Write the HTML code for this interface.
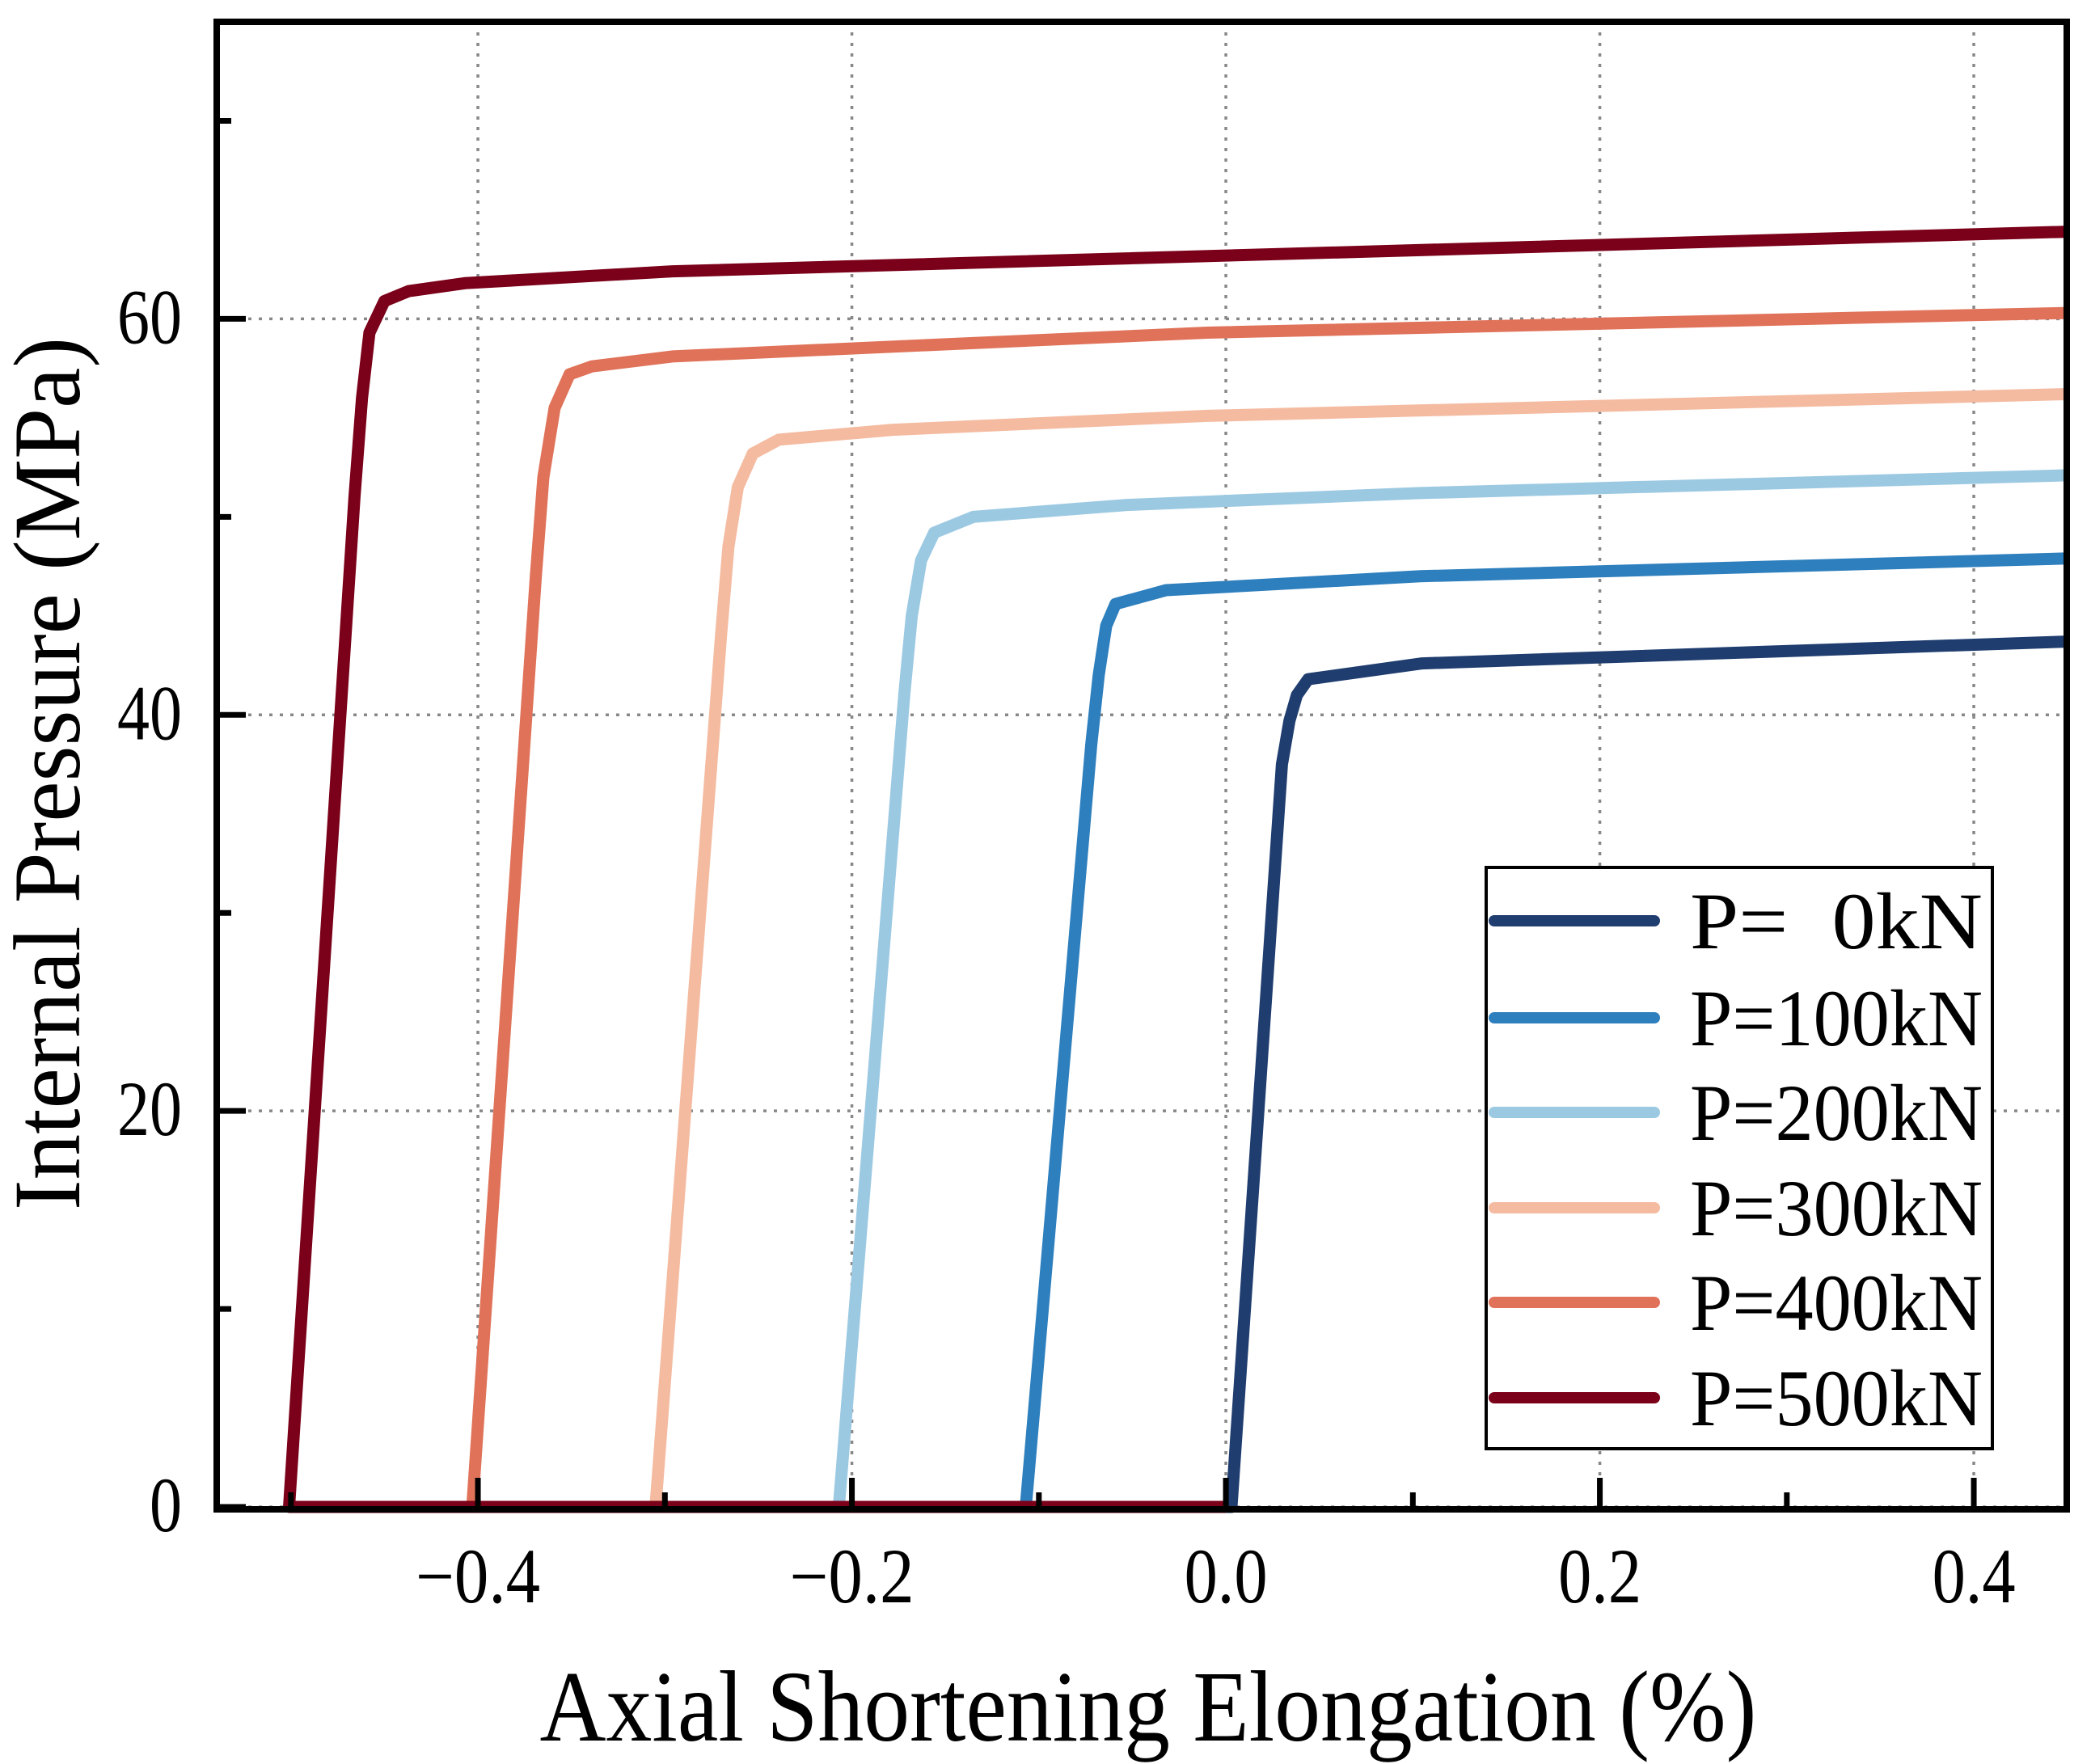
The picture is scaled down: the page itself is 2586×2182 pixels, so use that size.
<!DOCTYPE html>
<html><head><meta charset="utf-8">
<style>
html,body{margin:0;padding:0;background:#fff;}
svg{display:block;font-family:"Liberation Serif","Times New Roman",serif;}
</style></head>
<body>
<svg id="chart" width="2586" height="2182" viewBox="0 0 2586 2182" xmlns="http://www.w3.org/2000/svg">
<g id="grid"></g>
<g id="series"></g>
<g id="axes"></g>
<g id="legend"></g>
<text x="1420" y="2153" font-size="125" text-anchor="middle" textLength="1505" lengthAdjust="spacingAndGlyphs">Axial Shortening Elongation (%)</text>
<text transform="translate(98,957) rotate(-90)" x="0" y="0" font-size="118" text-anchor="middle" textLength="1080" lengthAdjust="spacingAndGlyphs">Internal Pressure (MPa)</text>
</svg>
<script>
const seriesNames = ["P=  0kN","P=100kN","P=200kN","P=300kN","P=400kN","P=500kN"];
const seriesColors = ["#1f3d6f","#2e7fbd","#9cc9e2","#f4bba1","#e07259","#7b0019"];
const xP0 = [0, 0.003, 0.030, 0.034, 0.038, 0.044, 0.105, 0.45];
const yP0 = [0, 0, 37.5, 39.7, 41.0, 41.8, 42.6, 43.7];
const xP100 = [0, -0.107, -0.072, -0.068, -0.064, -0.059, -0.032, 0.104, 0.45];
const yP100 = [0, 0, 38.5, 42.0, 44.5, 45.6, 46.3, 47.0, 47.9];
const xP200 = [0, -0.207, -0.172, -0.168, -0.163, -0.156, -0.135, -0.053, 0.104, 0.45];
const yP200 = [0, 0, 41.0, 45.0, 47.8, 49.2, 50.0, 50.6, 51.2, 52.1];
const xP300 = [0, -0.305, -0.270, -0.266, -0.261, -0.253, -0.239, -0.178, -0.010, 0.45];
const yP300 = [0, 0, 44.0, 48.5, 51.5, 53.2, 53.9, 54.4, 55.1, 56.2];
const xP400 = [0, -0.403, -0.369, -0.365, -0.359, -0.351, -0.339, -0.296, -0.010, 0.45];
const yP400 = [0, 0, 47.0, 52.0, 55.5, 57.2, 57.6, 58.1, 59.3, 60.3];
const xP500 = [0, -0.501, -0.466, -0.462, -0.458, -0.450, -0.437, -0.407, -0.296, 0.45];
const yP500 = [0, 0, 51.0, 56.0, 59.3, 60.9, 61.4, 61.8, 62.4, 64.4];
const xTickValues = [-0.4, -0.2, 0.0, 0.2, 0.4];
const xTickLabels = ["\u22120.4","\u22120.2","0.0","0.2","0.4"];
const xMinorValues = [-0.5, -0.3, -0.1, 0.1, 0.3];
const yTickValues = [0, 20, 40, 60];
const yTickLabels = ["0","20","40","60"];
const yMinorValues = [10, 30, 50, 70];

const NS = "http://www.w3.org/2000/svg";
const L = 268, R = 2556, T = 27, B = 1864;
const X0 = -0.5397, X1 = 0.4497, Y0 = 0, Y1 = 75;
function sx(v){ return L + (v - X0) / (X1 - X0) * (R - L); }
function sy(v){ return B - (v - Y0) / (Y1 - Y0) * (B - T); }
function mk(tag, attrs, parent){
  const e = document.createElementNS(NS, tag);
  for (const k in attrs) e.setAttribute(k, attrs[k]);
  parent.appendChild(e);
  return e;
}
const grid = document.getElementById("grid");
const axes = document.getElementById("axes");
const sg = document.getElementById("series");
const lg = document.getElementById("legend");

xTickValues.forEach((v, i) => {
  const g = mk("line", {x1: sx(v), x2: sx(v), y1: T, y2: B, stroke: "#888", "stroke-width": 3.5, "stroke-dasharray": "4 9"}, grid);
  
  
  const t = mk("line", {x1: sx(v), x2: sx(v), y1: B, y2: B - 36, stroke: "#000", "stroke-width": 7}, axes);
  
  
  const lab = mk("text", {x: sx(v), y: 1982, "font-size": 96, "text-anchor": "middle", textLength: xTickLabels[i].length > 3 ? 154 : 103, lengthAdjust: "spacingAndGlyphs"}, axes);
  lab.textContent = xTickLabels[i];
  
  
});
xMinorValues.forEach(v => {
  const t = mk("line", {x1: sx(v), x2: sx(v), y1: B, y2: B - 18, stroke: "#000", "stroke-width": 7}, axes);
  
  
});
yTickValues.forEach((v, i) => {
  const g = mk("line", {x1: L, x2: R, y1: sy(v), y2: sy(v), stroke: "#888", "stroke-width": 3.5, "stroke-dasharray": "4 9"}, grid);
  
  
  const t = mk("line", {x1: L, x2: L + 36, y1: sy(v), y2: sy(v), stroke: "#000", "stroke-width": 7}, axes);
  
  
  const lab = mk("text", {x: 225, y: sy(v) + 30, "font-size": 96, "text-anchor": "end", textLength: yTickLabels[i].length * 40, lengthAdjust: "spacingAndGlyphs"}, axes);
  lab.textContent = yTickLabels[i];
  
  
});
yMinorValues.forEach(v => {
  const t = mk("line", {x1: L, x2: L + 18, y1: sy(v), y2: sy(v), stroke: "#000", "stroke-width": 7}, axes);
  
  
});

const xs = [xP0, xP100, xP200, xP300, xP400, xP500];
const ys = [yP0, yP100, yP200, yP300, yP400, yP500];
xs.forEach((xa, s) => {
  const d = xa.map((v, i) => (i ? "L" : "M") + sx(v).toFixed(1) + "," + sy(ys[s][i]).toFixed(1)).join(" ");
  const p = mk("path", {d: d, fill: "none", stroke: seriesColors[s], "stroke-width": 15, "stroke-linejoin": "round"}, sg);
  
  
});

const frame = mk("rect", {x: L, y: T, width: R - L, height: B + 3 - T, fill: "none", stroke: "#000", "stroke-width": 8}, axes);



const box = mk("rect", {x: 1838, y: 1073, width: 626, height: 719, fill: "#fff", stroke: "#000", "stroke-width": 4}, lg);


const ly = [1139, 1259, 1376, 1494, 1611, 1729];
seriesNames.forEach((n, i) => {
  const ln = mk("line", {x1: 1848, x2: 2046, y1: ly[i], y2: ly[i], stroke: seriesColors[i], "stroke-width": 14, "stroke-linecap": "round"}, lg);
  
  
  const t = mk("text", {x: 2090, y: ly[i] + 34, "font-size": 100, textLength: 362, lengthAdjust: "spacingAndGlyphs"}, lg);
  t.setAttribute("style", "white-space:pre");
  t.textContent = n;
  
  
});
</script>
</body></html>
